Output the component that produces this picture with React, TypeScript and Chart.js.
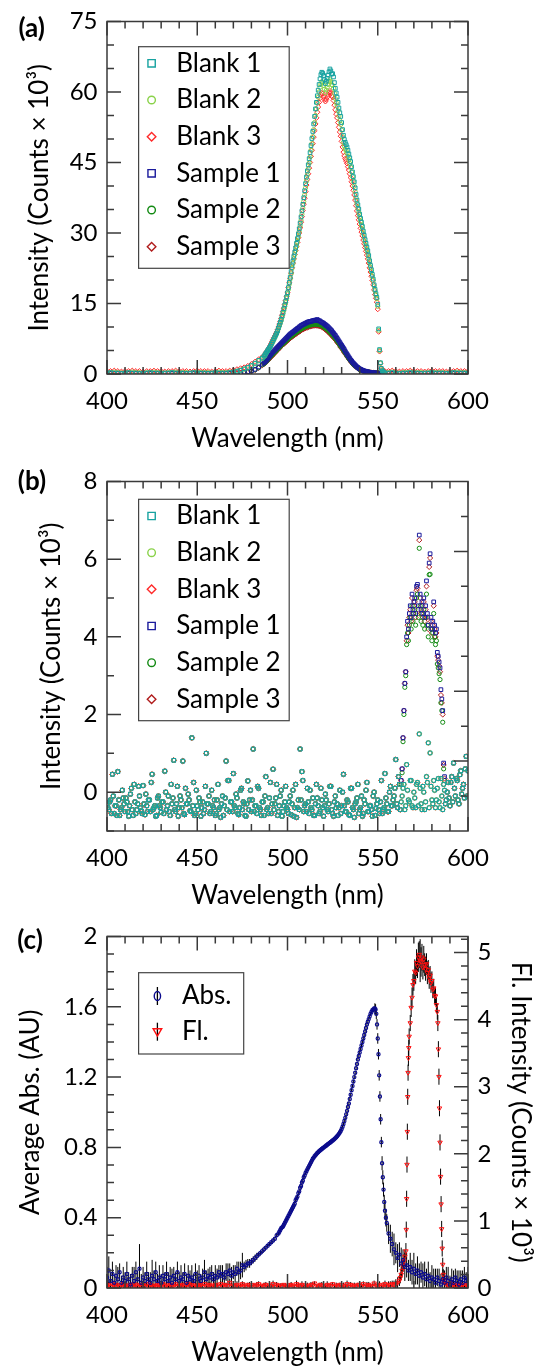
import React, { useEffect, useRef } from 'react';
import { Chart, registerables } from 'chart.js';

Chart.register(...registerables);

// ---------------- axis ticks / labels ----------------
const X_TICKS = [400, 450, 500, 550, 600];
const A_Y_TICKS = [0, 15, 30, 45, 60, 75];
const B_Y_TICKS = [0, 2, 4, 6, 8];
const C_ABS_TICKS = [0, 0.4, 0.8, 1.2, 1.6, 2];
const C_FL_TICKS = [0, 1, 2, 3, 4, 5];
const LEGEND_AB = ['Blank 1', 'Blank 2', 'Blank 3', 'Sample 1', 'Sample 2', 'Sample 3'];
const LEGEND_C = ['Abs.', 'Fl.'];

// ---------------- panel (a) ----------------
const wlA = [
  400, 402, 404, 406, 408, 410, 412, 414, 416, 418, 420, 422, 424, 426, 428, 430, 432, 434, 436, 438, 440, 442,
  444, 446, 448, 450, 452, 454, 456, 458, 460, 462, 464, 466, 468, 470, 472, 474, 476, 478, 480, 482, 484, 486,
  487, 487.5, 488, 488.5, 489, 489.5, 490, 490.5, 491, 491.5,
  492, 492.5, 493, 493.5, 494, 494.5, 495, 495.5, 496, 496.5,
  497, 497.5, 498, 498.5, 499, 499.5, 500, 500.5, 501, 501.5,
  502, 502.5, 503, 503.5, 504, 504.5, 505, 505.5, 506, 506.5,
  507, 507.5, 508, 508.5, 509, 509.5, 510, 510.5, 511, 511.5,
  512, 512.5, 513, 513.5, 514, 514.5, 515, 515.5, 516, 516.5,
  517, 517.5, 518, 518.5, 519, 519.5, 520, 520.5, 521, 521.5,
  522, 522.5, 523, 523.5, 524, 524.5, 525, 525.5, 526, 526.5,
  527, 527.5, 528, 528.5, 529, 529.5, 530, 530.5, 531, 531.5,
  532, 532.5, 533, 533.5, 534, 534.5, 535, 535.5, 536, 536.5,
  537, 537.5, 538, 538.5, 539, 539.5, 540, 540.5, 541, 541.5,
  542, 542.5, 543, 543.5, 544, 544.5, 545, 545.5, 546, 546.5,
  547, 547.5, 548, 548.5, 549, 549.5, 550, 550.5, 551, 551.5,
  552, 552.5, 553, 553.5,
  554, 556, 558, 560, 562, 564, 566, 568, 570, 572, 574, 576, 578, 580, 582, 584, 586, 588, 590, 592, 594, 596, 598, 600,
];

const blank1A = [
  0.2, 0.3, 0.2, 0.2, 0.1, 0.2, 0.3, 0.2, 0.2, 0.1, 0.2, 0.2, 0.3, 0.2, 0.2, 0.1, 0.2, 0.2, 0.3, 0.2, 0.2, 0.2,
  0.1, 0.2, 0.3, 0.2, 0.2, 0.2, 0.1, 0.2, 0.3, 0.2, 0.2, 0.2, 0.3, 0.4, 0.6, 0.8, 1.1, 1.4, 1.8, 2.3, 2.9, 3.4,
  3.8, 4.1, 4.4, 4.7, 5.0, 5.3, 5.6, 5.9, 6.3, 6.7,
  7.1, 7.5, 7.9, 8.3, 8.7, 9.2, 9.8, 10.4, 11.0, 11.6,
  12.3, 13.1, 13.9, 14.7, 15.5, 16.4, 17.3, 18.4, 19.5, 20.6,
  21.8, 23.0, 24.0, 25.0, 25.9, 26.8, 27.8, 28.8, 29.8, 30.9,
  32.1, 33.4, 34.7, 36.1, 37.5, 39.0, 40.5, 41.9, 43.2, 44.5,
  45.8, 47.1, 48.6, 50.1, 51.6, 53.2, 54.8, 56.4, 57.8, 59.2,
  60.4, 61.6, 62.8, 63.7, 64.2, 64.0, 63.5, 62.6, 61.8, 62.3,
  62.9, 63.6, 64.3, 64.9, 64.5, 63.8, 63.9, 63.2, 62.0, 60.8,
  59.8, 58.9, 57.8, 56.6, 55.6, 54.8, 53.5, 52.0, 50.8, 49.9,
  49.3, 48.8, 48.3, 47.6, 46.8, 46.0, 45.2, 44.1, 43.0, 42.0,
  40.9, 39.6, 38.2, 37.0, 36.0, 35.1, 34.0, 33.1, 32.3, 31.4,
  30.4, 29.5, 28.6, 27.8, 27.0, 26.2, 25.2, 24.1, 23.1, 22.2,
  21.2, 20.2, 19.0, 18.0, 17.1, 16.3, 14.8, 9.6, 5.2, 2.4,
  1.2, 0.7, 0.5, 0.3,
  0.2, 0.2, 0.3, 0.2, 0.1, 0.2, 0.2, 0.3, 0.2, 0.2, 0.1, 0.2, 0.2, 0.3, 0.2, 0.2, 0.2, 0.1, 0.2, 0.3, 0.2, 0.2, 0.2, 0.2,
];

const blank2A = [
  0.3, 0.3, 0.4, 0.3, 0.2, 0.3, 0.3, 0.4, 0.3, 0.3, 0.2, 0.3, 0.3, 0.4, 0.3, 0.3, 0.2, 0.3, 0.3, 0.4, 0.3, 0.3,
  0.3, 0.2, 0.3, 0.4, 0.3, 0.3, 0.3, 0.2, 0.3, 0.4, 0.3, 0.3, 0.4, 0.5, 0.6, 0.8, 1.0, 1.3, 1.7, 2.2, 2.8, 3.3,
  3.7, 3.9, 4.3, 4.6, 4.9, 5.2, 5.5, 5.8, 6.2, 6.6,
  7.0, 7.4, 7.8, 8.2, 8.6, 9.1, 9.7, 10.2, 10.8, 11.4,
  12.1, 12.9, 13.6, 14.4, 15.2, 16.1, 17.0, 18.0, 19.1, 20.2,
  21.3, 22.5, 23.5, 24.5, 25.4, 26.3, 27.2, 28.2, 29.2, 30.3,
  31.5, 32.7, 34.0, 35.3, 36.7, 38.1, 39.6, 41.0, 42.3, 43.6,
  44.9, 46.2, 47.6, 49.0, 50.5, 52.0, 53.5, 55.0, 56.4, 57.7,
  58.9, 60.0, 61.0, 61.7, 62.2, 62.0, 61.4, 60.6, 59.8, 60.4,
  61.0, 61.6, 62.2, 62.6, 62.2, 61.6, 61.4, 60.8, 59.7, 58.6,
  57.7, 57.0, 56.0, 54.9, 53.9, 53.1, 51.9, 50.5, 49.3, 48.5,
  47.9, 47.5, 47.0, 46.3, 45.6, 44.8, 44.0, 43.0, 42.0, 41.0,
  40.0, 38.8, 37.5, 36.3, 35.3, 34.4, 33.4, 32.5, 31.7, 30.8,
  29.9, 29.0, 28.1, 27.3, 26.5, 25.7, 24.7, 23.7, 22.7, 21.8,
  20.8, 19.9, 18.7, 17.7, 16.8, 16.0, 14.4, 9.3, 5.0, 2.3,
  1.1, 0.7, 0.5, 0.4,
  0.3, 0.3, 0.4, 0.3, 0.2, 0.3, 0.3, 0.4, 0.3, 0.3, 0.3, 0.2, 0.3, 0.4, 0.3, 0.3, 0.3, 0.2, 0.3, 0.3, 0.4, 0.3, 0.3, 0.3,
];

const blank3A = [
  0.6, 0.6, 0.7, 0.6, 0.5, 0.6, 0.6, 0.7, 0.6, 0.6, 0.5, 0.6, 0.6, 0.7, 0.6, 0.6, 0.5, 0.6, 0.6, 0.7, 0.6, 0.6,
  0.6, 0.5, 0.6, 0.7, 0.6, 0.6, 0.6, 0.5, 0.6, 0.7, 0.6, 0.6, 0.7, 0.8, 1.0, 1.2, 1.4, 1.7, 2.1, 2.6, 3.1, 3.6,
  3.9, 4.2, 4.5, 4.8, 5.1, 5.4, 5.7, 6.1, 6.5, 6.9,
  7.3, 7.7, 8.1, 8.5, 8.9, 9.4, 10.0, 10.6, 11.2, 11.8,
  12.5, 13.3, 14.0, 14.8, 15.6, 16.5, 17.4, 18.4, 19.4, 20.4,
  21.5, 22.6, 23.6, 24.5, 25.4, 26.2, 27.1, 28.0, 29.0, 30.0,
  31.1, 32.3, 33.5, 34.8, 36.1, 37.4, 38.8, 40.2, 41.4, 42.6,
  43.8, 45.0, 46.3, 47.6, 49.0, 50.4, 51.8, 53.2, 54.5, 55.7,
  56.8, 57.8, 58.7, 59.4, 59.8, 59.6, 59.0, 58.4, 58.0, 58.4,
  58.9, 59.4, 59.9, 60.2, 59.8, 59.2, 58.9, 58.2, 57.2, 56.2,
  55.3, 54.5, 53.5, 52.5, 51.5, 50.6, 49.5, 48.3, 47.2, 46.4,
  45.8, 45.3, 44.8, 44.1, 43.4, 42.6, 41.8, 40.9, 40.0, 39.1,
  38.1, 37.0, 35.8, 34.7, 33.7, 32.8, 31.9, 31.0, 30.2, 29.4,
  28.5, 27.7, 26.9, 26.1, 25.3, 24.5, 23.6, 22.6, 21.7, 20.8,
  19.9, 19.0, 17.9, 16.9, 16.1, 15.3, 13.8, 9.0, 4.8, 2.3,
  1.2, 0.9, 0.7, 0.6,
  0.6, 0.6, 0.7, 0.6, 0.5, 0.6, 0.6, 0.7, 0.6, 0.6, 0.6, 0.5, 0.6, 0.7, 0.6, 0.6, 0.6, 0.5, 0.6, 0.6, 0.7, 0.6, 0.6, 0.6,
];

const sample1A = [
  0.1, 0.1, 0.1, 0.1, 0.1, 0.1, 0.1, 0.1, 0.1, 0.1, 0.1, 0.1, 0.1, 0.1, 0.1, 0.1, 0.1, 0.1, 0.1, 0.1, 0.1, 0.1,
  0.1, 0.1, 0.1, 0.1, 0.1, 0.1, 0.1, 0.1, 0.1, 0.1, 0.1, 0.1, 0.12, 0.15, 0.2, 0.28, 0.38, 0.5, 0.68, 1.0, 1.5, 2.1,
  2.4, 2.6, 2.8, 3.0, 3.3, 3.5, 3.8, 4.0, 4.3, 4.5,
  4.7, 4.9, 5.1, 5.3, 5.5, 5.7, 5.9, 6.1, 6.3, 6.5,
  6.7, 6.9, 7.1, 7.3, 7.5, 7.7, 7.9, 8.1, 8.3, 8.5,
  8.6, 8.8, 8.9, 9.1, 9.2, 9.4, 9.5, 9.7, 9.8, 10.0,
  10.1, 10.3, 10.4, 10.5, 10.6, 10.7, 10.8, 10.9, 11.0, 11.1,
  11.1, 11.2, 11.2, 11.3, 11.3, 11.4, 11.4, 11.5, 11.4, 11.6,
  11.4, 11.3, 11.3, 11.1, 11.0, 10.9, 10.8, 10.6, 10.5, 10.3,
  10.2, 10.0, 9.8, 9.6, 9.4, 9.2, 8.9, 8.7, 8.4, 8.2,
  7.9, 7.6, 7.3, 7.0, 6.7, 6.4, 6.1, 5.8, 5.5, 5.2,
  4.8, 4.5, 4.2, 3.9, 3.6, 3.3, 3.0, 2.8, 2.5, 2.3,
  2.1, 1.9, 1.7, 1.5, 1.4, 1.2, 1.1, 1.0, 0.9, 0.8,
  0.7, 0.65, 0.6, 0.55, 0.5, 0.45, 0.4, 0.37, 0.34, 0.31,
  0.28, 0.26, 0.24, 0.22, 0.2, 0.19, 0.18, 0.17, 0.16, 0.15,
  0.14, 0.13, 0.12, 0.12,
  0.1, 0.1, 0.1, 0.1, 0.1, 0.1, 0.1, 0.1, 0.1, 0.1, 0.1, 0.1, 0.1, 0.1, 0.1, 0.1, 0.1, 0.1, 0.1, 0.1, 0.1, 0.1, 0.1, 0.1,
];

const sample2A = [
  0.1, 0.1, 0.1, 0.1, 0.1, 0.1, 0.1, 0.1, 0.1, 0.1, 0.1, 0.1, 0.1, 0.1, 0.1, 0.1, 0.1, 0.1, 0.1, 0.1, 0.1, 0.1,
  0.1, 0.1, 0.1, 0.1, 0.1, 0.1, 0.1, 0.1, 0.1, 0.1, 0.1, 0.1, 0.12, 0.14, 0.18, 0.25, 0.34, 0.45, 0.62, 0.9, 1.35, 1.95,
  2.2, 2.4, 2.6, 2.8, 3.0, 3.2, 3.5, 3.7, 3.9, 4.1,
  4.3, 4.5, 4.7, 4.9, 5.1, 5.3, 5.5, 5.7, 5.9, 6.1,
  6.3, 6.5, 6.6, 6.8, 7.0, 7.2, 7.4, 7.5, 7.7, 7.9,
  8.0, 8.2, 8.3, 8.5, 8.6, 8.8, 8.9, 9.0, 9.2, 9.3,
  9.4, 9.6, 9.7, 9.8, 9.9, 10.0, 10.1, 10.2, 10.2, 10.3,
  10.4, 10.4, 10.5, 10.5, 10.6, 10.6, 10.6, 10.7, 10.6, 10.6,
  10.6, 10.5, 10.5, 10.4, 10.3, 10.2, 10.1, 9.9, 9.8, 9.6,
  9.5, 9.3, 9.1, 8.9, 8.7, 8.5, 8.3, 8.1, 7.8, 7.6,
  7.3, 7.1, 6.8, 6.5, 6.2, 5.9, 5.7, 5.4, 5.1, 4.8,
  4.5, 4.2, 3.9, 3.6, 3.3, 3.1, 2.8, 2.6, 2.3, 2.1,
  1.9, 1.8, 1.6, 1.4, 1.3, 1.1, 1.0, 0.9, 0.8, 0.75,
  0.65, 0.6, 0.55, 0.5, 0.45, 0.42, 0.38, 0.35, 0.32, 0.29,
  0.26, 0.24, 0.22, 0.2, 0.19, 0.18, 0.17, 0.16, 0.15, 0.14,
  0.13, 0.12, 0.12, 0.11,
  0.1, 0.1, 0.1, 0.1, 0.1, 0.1, 0.1, 0.1, 0.1, 0.1, 0.1, 0.1, 0.1, 0.1, 0.1, 0.1, 0.1, 0.1, 0.1, 0.1, 0.1, 0.1, 0.1, 0.1,
];

const sample3A = [
  0.1, 0.1, 0.1, 0.1, 0.1, 0.1, 0.1, 0.1, 0.1, 0.1, 0.1, 0.1, 0.1, 0.1, 0.1, 0.1, 0.1, 0.1, 0.1, 0.1, 0.1, 0.1,
  0.1, 0.1, 0.1, 0.1, 0.1, 0.1, 0.1, 0.1, 0.1, 0.1, 0.1, 0.1, 0.11, 0.13, 0.17, 0.23, 0.32, 0.43, 0.58, 0.85, 1.3, 1.85,
  2.1, 2.3, 2.5, 2.7, 2.9, 3.1, 3.3, 3.5, 3.7, 3.9,
  4.1, 4.3, 4.5, 4.7, 4.9, 5.1, 5.3, 5.5, 5.7, 5.9,
  6.1, 6.3, 6.4, 6.6, 6.8, 7.0, 7.1, 7.3, 7.5, 7.6,
  7.8, 7.9, 8.1, 8.2, 8.4, 8.5, 8.6, 8.8, 8.9, 9.0,
  9.1, 9.3, 9.4, 9.5, 9.6, 9.7, 9.8, 9.9, 9.9, 10.0,
  10.1, 10.1, 10.2, 10.2, 10.3, 10.3, 10.3, 10.4, 10.3, 10.3,
  10.3, 10.2, 10.2, 10.1, 10.0, 9.9, 9.8, 9.6, 9.5, 9.3,
  9.2, 9.0, 8.8, 8.6, 8.4, 8.2, 8.0, 7.8, 7.6, 7.3,
  7.1, 6.8, 6.6, 6.3, 6.0, 5.7, 5.5, 5.2, 4.9, 4.6,
  4.3, 4.1, 3.8, 3.5, 3.2, 3.0, 2.7, 2.5, 2.2, 2.0,
  1.8, 1.7, 1.5, 1.4, 1.2, 1.1, 1.0, 0.9, 0.8, 0.7,
  0.6, 0.55, 0.5, 0.46, 0.42, 0.39, 0.36, 0.33, 0.3, 0.27,
  0.25, 0.23, 0.21, 0.2, 0.18, 0.17, 0.16, 0.15, 0.14, 0.13,
  0.12, 0.12, 0.11, 0.11,
  0.1, 0.1, 0.1, 0.1, 0.1, 0.1, 0.1, 0.1, 0.1, 0.1, 0.1, 0.1, 0.1, 0.1, 0.1, 0.1, 0.1, 0.1, 0.1, 0.1, 0.1, 0.1, 0.1, 0.1,
];

// ---------------- panel (b) ----------------
const wlB = [
  400, 401, 402, 403, 404, 405, 406, 407, 408, 409, 410, 411, 412, 413, 414, 415, 416, 417, 418, 419,
  420, 421, 422, 423, 424, 425, 426, 427, 428, 429, 430, 431, 432, 433, 434, 435, 436, 437, 438, 439,
  440, 441, 442, 443, 444, 445, 446, 447, 448, 449, 450, 451, 452, 453, 454, 455, 456, 457, 458, 459,
  460, 461, 462, 463, 464, 465, 466, 467, 468, 469, 470, 471, 472, 473, 474, 475, 476, 477, 478, 479,
  480, 481, 482, 483, 484, 485, 486, 487, 488, 489, 490, 491, 492, 493, 494, 495, 496, 497, 498, 499,
  500, 501, 502, 503, 504, 505, 506, 507, 508, 509, 510, 511, 512, 513, 514, 515, 516, 517, 518, 519,
  520, 521, 522, 523, 524, 525, 526, 527, 528, 529, 530, 531, 532, 533, 534, 535, 536, 537, 538, 539,
  540, 541, 542, 543, 544, 545, 546, 547, 548, 549, 550, 551, 552, 553, 554, 555, 556, 557, 558, 559,
  560, 561, 562, 563, 564, 565, 566, 567, 568, 569, 570, 571, 572, 573, 574, 575, 576, 577, 578, 579,
  580, 581, 582, 583, 584, 585, 586, 587, 588, 589, 590, 591, 592, 593, 594, 595, 596, 597, 598, 599,
  600,
];

// baseline readings shared by the six traces
const baseB = [
  -0.30, -0.45, -0.20, 0.46, -0.55, -0.35, 0.53, -0.60, -0.40, -0.15,
  -0.50, -0.25, -0.62, -0.05, -0.45, 0.20, -0.55, -0.30, -0.10, -0.48,
  0.17, -0.58, -0.35, -0.20, -0.50, 0.46, -0.40, -0.62, -0.15, -0.35,
  -0.52, -0.25, 0.54, -0.45, -0.10, -0.60, -0.30, 0.82, -0.50, 0.15,
  -0.40, -0.20, 0.80, -0.58, -0.30, -0.05, -0.48, 1.40, 0.25, -0.55,
  -0.35, -0.15, -0.62, -0.25, -0.45, 1.00, -0.30, -0.55, 0.05, -0.40,
  -0.60, -0.20, -0.45, -0.65, -0.10, -0.35, 0.80, 0.30, -0.50, -0.25,
  0.48, -0.40, -0.15, -0.58, 0.05, -0.45, -0.30, -0.62, 0.29, -0.20,
  -0.50, 1.11, -0.35, -0.55, 0.10, -0.45, -0.25, -0.60, 0.40, -0.40,
  -0.15, -0.55, 0.59, -0.30, 0.20, -0.50, -0.10, -0.62, -0.35, 0.15,
  -0.45, -0.25, -0.58, 0.05, -0.40, -0.65, -0.20, 1.11, 0.53, -0.50,
  -0.30, 0.10, -0.55, -0.40, -0.15, -0.60, 0.20, -0.35, -0.50, -0.20,
  -0.62, -0.05, -0.45, -0.30, 0.15, -0.55, -0.25, -0.40, -0.60, 0.05,
  -0.35, 0.46, -0.50, -0.20, -0.58, 0.10, -0.40, -0.65, -0.25, 0.20,
  -0.45, -0.10, -0.55, -0.30, 0.25, -0.50, -0.35, -0.62, 0.00, -0.42,
  -0.20, -0.55, 0.30, -0.45, 0.48, -0.30, -0.50, 0.15, -0.35, -0.10,
  0.84, -0.40, 0.20, -0.25, 0.10, -0.45, 0.71, -0.20, 0.30, -0.35,
  0.00, -0.40, 0.25, 1.50, -0.30, 0.15, -0.45, 0.40, 1.27, 1.01,
  -0.20, 0.30, -0.40, 0.10, -0.25, 0.35, -0.45, 0.05, -0.20, 0.25,
  -0.35, 0.40, 0.75, -0.10, 0.30, -0.30, 0.55, 0.10, -0.15, 0.92,
  0.55,
];

// second set of baseline readings, between the first ones
const wlB2 = [
  400.5, 401.5, 402.5, 403.5, 404.5, 405.5, 406.5, 407.5, 408.5, 409.5, 410.5, 411.5, 412.5, 413.5, 414.5, 415.5, 416.5, 417.5, 418.5, 419.5,
  420.5, 421.5, 422.5, 423.5, 424.5, 425.5, 426.5, 427.5, 428.5, 429.5, 430.5, 431.5, 432.5, 433.5, 434.5, 435.5, 436.5, 437.5, 438.5, 439.5,
  440.5, 441.5, 442.5, 443.5, 444.5, 445.5, 446.5, 447.5, 448.5, 449.5, 450.5, 451.5, 452.5, 453.5, 454.5, 455.5, 456.5, 457.5, 458.5, 459.5,
  460.5, 461.5, 462.5, 463.5, 464.5, 465.5, 466.5, 467.5, 468.5, 469.5, 470.5, 471.5, 472.5, 473.5, 474.5, 475.5, 476.5, 477.5, 478.5, 479.5,
  480.5, 481.5, 482.5, 483.5, 484.5, 485.5, 486.5, 487.5, 488.5, 489.5, 490.5, 491.5, 492.5, 493.5, 494.5, 495.5, 496.5, 497.5, 498.5, 499.5,
  500.5, 501.5, 502.5, 503.5, 504.5, 505.5, 506.5, 507.5, 508.5, 509.5, 510.5, 511.5, 512.5, 513.5, 514.5, 515.5, 516.5, 517.5, 518.5, 519.5,
  520.5, 521.5, 522.5, 523.5, 524.5, 525.5, 526.5, 527.5, 528.5, 529.5, 530.5, 531.5, 532.5, 533.5, 534.5, 535.5, 536.5, 537.5, 538.5, 539.5,
  540.5, 541.5, 542.5, 543.5, 544.5, 545.5, 546.5, 547.5, 548.5, 549.5, 550.5, 551.5, 552.5, 553.5, 554.5, 555.5, 556.5, 557.5, 558.5, 559.5,
  560.5, 561.5, 562.5, 563.5, 564.5, 565.5, 566.5, 567.5, 568.5, 569.5, 570.5, 571.5, 572.5, 573.5, 574.5, 575.5, 576.5, 577.5, 578.5, 579.5,
  580.5, 581.5, 582.5, 583.5, 584.5, 585.5, 586.5, 587.5, 588.5, 589.5, 590.5, 591.5, 592.5, 593.5, 594.5, 595.5, 596.5, 597.5, 598.5, 599.5,
];
const baseB2 = [
  -0.40, -0.25, -0.55, -0.10, -0.35, -0.60, -0.20, -0.45, 0.05, -0.30,
  -0.15, -0.50, -0.35, 0.10, -0.60, -0.25, -0.45, 0.15, -0.40, -0.55,
  -0.30, -0.05, -0.50, -0.20, 0.25, -0.45, -0.35, -0.60, -0.10, -0.40,
  -0.25, -0.55, 0.00, -0.35, -0.50, 0.20, -0.15, -0.45, -0.30, -0.62,
  -0.10, -0.40, -0.55, 0.10, -0.30, -0.20, -0.50, -0.35, -0.60, 0.05,
  -0.45, -0.25, -0.40, -0.55, 0.15, -0.30, -0.10, -0.50, -0.35, -0.20,
  -0.55, 0.20, -0.40, -0.30, -0.60, -0.15, -0.45, 0.30, -0.25, -0.50,
  -0.35, -0.05, -0.55, -0.40, 0.10, -0.25, -0.60, -0.30, -0.45, 0.05,
  -0.20, -0.50, -0.35, 0.15, -0.40, -0.60, -0.25, -0.10, -0.45, -0.55,
  0.25, -0.30, -0.45, -0.15, -0.60, -0.35, 0.05, -0.50, -0.25, -0.40,
  -0.55, -0.10, -0.30, -0.62, 0.20, -0.40, -0.45, -0.20, 0.30, -0.35,
  -0.50, -0.25, 0.05, -0.45, -0.60, -0.30, -0.15, -0.55, 0.10, -0.40,
  -0.35, -0.20, -0.50, 0.15, -0.45, -0.62, -0.10, -0.30, -0.40, -0.55,
  0.00, -0.35, -0.50, -0.25, -0.60, 0.10, -0.45, -0.30, -0.15, -0.55,
  -0.40, -0.62, -0.20, 0.05, -0.50, -0.35, -0.45, -0.10, -0.60, -0.30,
  -0.45, -0.25, -0.55, -0.40, -0.15, -0.50, 0.00, -0.35, -0.20, 0.10,
  -0.30, 0.40, -0.45, -0.10, 0.20, -0.35, 0.05, -0.25, 0.30, -0.40,
  -0.15, 0.20, -0.35, 0.10, -0.45, 0.00, -0.25, 0.25, -0.40, 0.15,
  -0.30, 0.05, -0.20, 0.35, -0.40, -0.10, 0.20, -0.30, 0.00, -0.15,
  0.25, -0.25, 0.10, 0.35, -0.20, 0.45, -0.05, 0.20, 0.60, -0.10,
];

const peakWlB = [
  563, 563.5, 564, 564.5, 565, 565.5, 566, 566.5, 567, 567.5,
  568, 568.5, 569, 569.5, 570, 570.5, 571, 571.5, 572, 572.5,
  573, 573.5, 574, 574.5, 575, 575.5, 576, 576.5, 577, 577.5,
  578, 578.5, 579, 579.5, 580, 580.5, 581, 581.5, 582, 582.5,
  583, 583.5, 584, 584.5, 585, 585.5, 586, 586.5, 587,
];
const sample1PeakB = [
  0.3, 0.6, 1.4, 2.1, 2.8, 3.1, 4.0, 4.4, 4.2, 4.6,
  4.8, 4.5, 5.1, 4.7, 4.9, 5.0, 4.6, 5.3, 5.35, 4.8,
  6.62, 5.1, 4.7, 4.9, 4.6, 5.0, 4.5, 4.8, 5.44, 4.6,
  4.3, 5.9, 6.14, 4.5, 4.2, 4.4, 4.9, 4.3, 4.1, 4.2,
  3.6, 3.5, 3.35, 3.2, 2.64, 2.4, 2.1, 0.75, 0.4,
];
const sample2PeakB = [
  0.2, 0.5, 1.3, 2.0, 2.7, 3.0, 3.8, 4.1, 3.9, 4.3,
  4.5, 4.2, 4.8, 4.4, 4.6, 4.7, 4.3, 5.0, 5.1, 4.5,
  6.28, 4.8, 4.4, 4.6, 4.3, 4.7, 4.2, 4.5, 5.1, 4.3,
  4.0, 5.6, 5.61, 4.2, 3.9, 4.1, 4.6, 4.0, 3.8, 3.9,
  3.3, 3.2, 3.05, 2.9, 2.3, 2.1, 1.8, 0.6, 0.3,
];
const sample3PeakB = [
  0.3, 0.6, 1.4, 2.1, 2.8, 3.1, 3.9, 4.3, 4.1, 4.5,
  4.7, 4.4, 5.0, 4.6, 4.8, 4.9, 4.5, 5.2, 5.25, 4.7,
  6.49, 5.0, 4.6, 4.8, 4.5, 4.9, 4.4, 4.7, 5.3, 4.5,
  4.2, 5.8, 6.03, 4.4, 4.1, 4.3, 4.8, 4.2, 4.0, 4.1,
  3.5, 3.4, 3.25, 3.1, 2.5, 2.3, 2.0, 0.7, 0.35,
];

// ---------------- panel (c) ----------------
const wlAbs = [
  400, 401, 402, 403, 404, 405, 406, 407, 408, 409, 410, 411, 412, 413, 414, 415, 416, 417, 418, 419,
  420, 421, 422, 423, 424, 425, 426, 427, 428, 429, 430, 431, 432, 433, 434, 435, 436, 437, 438, 439,
  440, 441, 442, 443, 444, 445, 446, 447, 448, 449, 450, 451, 452, 453, 454, 455, 456, 457, 458, 459,
  460, 461, 462, 463, 464, 465, 466, 467, 468, 469, 470, 471, 472, 473, 474, 475, 476, 477, 478, 479,
  480, 481, 482, 483, 484, 485, 486, 487, 488, 489, 490, 491, 492, 493, 494, 495,
  495.5, 496, 496.5, 497, 497.5, 498, 498.5, 499, 499.5, 500,
  500.5, 501, 501.5, 502, 502.5, 503, 503.5, 504, 504.5, 505,
  505.5, 506, 506.5, 507, 507.5, 508, 508.5, 509, 509.5, 510,
  510.5, 511, 511.5, 512, 512.5, 513, 513.5, 514, 514.5, 515,
  515.5, 516, 516.5, 517, 517.5, 518, 518.5, 519, 519.5, 520,
  520.5, 521, 521.5, 522, 522.5, 523, 523.5, 524, 524.5, 525,
  525.5, 526, 526.5, 527, 527.5, 528, 528.5, 529, 529.5, 530,
  530.5, 531, 531.5, 532, 532.5, 533, 533.5, 534, 534.5, 535,
  535.5, 536, 536.5, 537, 537.5, 538, 538.5, 539, 539.5, 540,
  540.5, 541, 541.5, 542, 542.5, 543, 543.5, 544, 544.5, 545,
  545.5, 546, 546.5, 547, 547.5, 548,
  548.4, 548.8, 549.2, 549.6, 550, 550.4, 550.8, 551.2, 551.6, 552, 552.4, 552.8, 553.2, 553.6, 554, 554.5, 555,
  556, 557, 558, 559, 560, 561, 562, 563, 564, 565, 566, 567, 568, 569, 570, 571, 572, 573, 574, 575,
  576, 577, 578, 579, 580, 581, 582, 583, 584, 585, 586, 587, 588, 589, 590, 591, 592, 593, 594, 595,
  596, 597, 598, 599, 600,
];
const absVal = [
  0.06, 0.10, 0.04, 0.08, 0.03, 0.07, 0.05, 0.09, 0.03, 0.06,
  0.04, 0.08, 0.05, 0.02, 0.07, 0.04, 0.09, 0.05, 0.11, 0.03,
  0.06, 0.04, 0.08, 0.05, 0.03, 0.07, 0.05, 0.09, 0.04, 0.06,
  0.03, 0.07, 0.05, 0.08, 0.04, 0.06, 0.03, 0.07, 0.05, 0.09,
  0.04, 0.06, 0.05, 0.08, 0.03, 0.07, 0.05, 0.06, 0.04, 0.08,
  0.05, 0.07, 0.04, 0.06, 0.09, 0.05, 0.07, 0.06, 0.08, 0.05,
  0.07, 0.06, 0.09, 0.07, 0.08, 0.06, 0.09, 0.08, 0.10, 0.07,
  0.09, 0.08, 0.11, 0.09, 0.10, 0.13, 0.12, 0.13, 0.14, 0.14,
  0.15, 0.16, 0.17, 0.18, 0.19, 0.20, 0.21, 0.22, 0.23, 0.24,
  0.25, 0.26, 0.27, 0.28, 0.30, 0.31,
  0.32, 0.33, 0.34, 0.345, 0.35, 0.36, 0.37, 0.38, 0.39, 0.40,
  0.41, 0.42, 0.43, 0.44, 0.45, 0.46, 0.47, 0.48, 0.50, 0.51,
  0.52, 0.54, 0.55, 0.57, 0.58, 0.60, 0.61, 0.63, 0.64, 0.655,
  0.665, 0.675, 0.685, 0.695, 0.705, 0.715, 0.725, 0.735, 0.742, 0.75,
  0.756, 0.762, 0.768, 0.773, 0.778, 0.783, 0.787, 0.791, 0.795, 0.799,
  0.803, 0.807, 0.811, 0.815, 0.819, 0.823, 0.827, 0.831, 0.835, 0.839,
  0.843, 0.848, 0.853, 0.858, 0.864, 0.870, 0.877, 0.885, 0.894, 0.905,
  0.918, 0.933, 0.950, 0.968, 0.988, 1.008, 1.03, 1.05, 1.075, 1.10,
  1.125, 1.15, 1.175, 1.20, 1.225, 1.25, 1.275, 1.30, 1.32, 1.34,
  1.36, 1.38, 1.40, 1.42, 1.44, 1.46, 1.48, 1.50, 1.515, 1.53,
  1.545, 1.56, 1.57, 1.58, 1.585, 1.59,
  1.59, 1.585, 1.56, 1.50, 1.42, 1.33, 1.21, 1.09, 0.96, 0.83, 0.71, 0.63, 0.56, 0.49, 0.44, 0.40, 0.37,
  0.31, 0.28, 0.25, 0.22, 0.20, 0.17, 0.19, 0.14, 0.16, 0.12, 0.13, 0.10, 0.12, 0.09, 0.11, 0.08, 0.10, 0.07, 0.09, 0.06,
  0.08, 0.05, 0.07, 0.04, 0.06, 0.05, 0.03, 0.06, 0.04, 0.02, 0.05, 0.03, 0.06, 0.04, 0.02, 0.05, 0.03, 0.06, 0.04, 0.02,
  0.05, 0.03, 0.06, 0.04, 0.05,
];
const absErr = [
  0.06, 0.08, 0.05, 0.07, 0.04, 0.06, 0.07, 0.05, 0.04, 0.06,
  0.05, 0.07, 0.04, 0.06, 0.05, 0.08, 0.06, 0.05, 0.14, 0.05,
  0.06, 0.05, 0.07, 0.04, 0.06, 0.09, 0.05, 0.06, 0.04, 0.07,
  0.05, 0.06, 0.04, 0.07, 0.05, 0.06, 0.08, 0.05, 0.04, 0.06,
  0.05, 0.07, 0.04, 0.06, 0.05, 0.06, 0.05, 0.07, 0.04, 0.06,
  0.05, 0.06, 0.04, 0.05, 0.07, 0.05, 0.04, 0.06, 0.05, 0.04,
  0.06, 0.05, 0.04, 0.06, 0.05, 0.04, 0.05, 0.06, 0.04, 0.05,
  0.04, 0.05, 0.04, 0.06, 0.05, 0.07,
  0.03, 0.03, 0.025, 0.025, 0.02, 0.02, 0.02, 0.02, 0.015, 0.015, 0.015, 0.015, 0.01, 0.01, 0.01, 0.01, 0.01, 0.01, 0.01, 0.01,
  0.01, 0.01, 0.01, 0.01, 0.01, 0.01, 0.01, 0.01, 0.01, 0.01,
  0.01, 0.01, 0.01, 0.01, 0.01, 0.01, 0.01, 0.01, 0.01, 0.01,
  0.01, 0.01, 0.01, 0.01, 0.01, 0.01, 0.01, 0.01, 0.01, 0.01,
  0.01, 0.01, 0.01, 0.01, 0.01, 0.01, 0.01, 0.01, 0.01, 0.01,
  0.01, 0.01, 0.01, 0.01, 0.01, 0.01, 0.01, 0.01, 0.01, 0.01,
  0.01, 0.01, 0.01, 0.01, 0.01, 0.01, 0.01, 0.01, 0.01, 0.01,
  0.01, 0.01, 0.01, 0.01, 0.01, 0.01, 0.01, 0.01, 0.01, 0.01,
  0.01, 0.01, 0.01, 0.01, 0.01, 0.01, 0.01, 0.01, 0.01, 0.01,
  0.01, 0.01, 0.01, 0.01, 0.01, 0.01, 0.01, 0.01, 0.01, 0.01,
  0.01, 0.01, 0.01, 0.01, 0.01, 0.01, 0.01, 0.01, 0.01, 0.01,
  0.01, 0.01, 0.01, 0.01, 0.01, 0.01,
  0.03, 0.03, 0.03, 0.03, 0.03, 0.03, 0.03, 0.03, 0.03, 0.03, 0.04, 0.04, 0.04, 0.04, 0.05, 0.05, 0.05,
  0.06, 0.08, 0.07, 0.09, 0.06, 0.08, 0.07, 0.09, 0.06, 0.08, 0.07, 0.06, 0.08, 0.07, 0.09, 0.06, 0.08, 0.07, 0.06, 0.08,
  0.07, 0.06, 0.08, 0.05, 0.07, 0.06, 0.08, 0.05, 0.07, 0.06, 0.05, 0.07, 0.06, 0.08, 0.05, 0.06, 0.07, 0.05, 0.06, 0.08,
  0.05, 0.07, 0.06, 0.05, 0.07,
];

const wlFl = [
  400, 401, 402, 403, 404, 405, 406, 407, 408, 409, 410, 411, 412, 413, 414, 415, 416, 417, 418, 419,
  420, 421, 422, 423, 424, 425, 426, 427, 428, 429, 430, 431, 432, 433, 434, 435, 436, 437, 438, 439,
  440, 441, 442, 443, 444, 445, 446, 447, 448, 449, 450, 451, 452, 453, 454, 455, 456, 457, 458, 459,
  460, 461, 462, 463, 464, 465, 466, 467, 468, 469, 470, 471, 472, 473, 474, 475, 476, 477, 478, 479,
  480, 481, 482, 483, 484, 485, 486, 487, 488, 489, 490, 491, 492, 493, 494, 495, 496, 497, 498, 499,
  500, 501, 502, 503, 504, 505, 506, 507, 508, 509, 510, 511, 512, 513, 514, 515, 516, 517, 518, 519,
  520, 521, 522, 523, 524, 525, 526, 527, 528, 529, 530, 531, 532, 533, 534, 535, 536, 537, 538, 539,
  540, 541, 542, 543, 544, 545, 546, 547, 548, 549, 550, 551, 552, 553, 554, 555, 556, 557, 558, 559,
  560, 561, 562,
  562.5, 563, 563.5, 564, 564.5, 565,
  565.6, 565.8, 566, 566.2, 566.4, 566.6, 566.8, 567, 567.2, 567.4,
  568, 568.5, 569, 569.5, 570, 570.5, 571, 571.5, 572, 572.5,
  573, 573.5, 574, 574.5, 575, 575.5, 576, 576.5, 577, 577.5,
  578, 578.5, 579, 579.5, 580, 580.5, 581, 581.5, 582, 582.5, 583,
  583.3, 583.6, 583.9, 584.2, 584.5, 584.8, 585.1, 585.4, 585.7, 586, 586.3, 586.6, 587,
  588, 589, 590, 591, 592, 593, 594, 595, 596, 597, 598, 599, 600,
];
const flVal = [
  0.03, 0.05, 0.02, 0.06, 0.04, 0.03, 0.05, 0.02, 0.04, 0.06,
  0.03, 0.04, 0.02, 0.05, 0.03, 0.06, 0.04, 0.02, 0.05, 0.03,
  0.04, 0.02, 0.06, 0.03, 0.05, 0.04, 0.02, 0.03, 0.05, 0.04,
  0.02, 0.06, 0.03, 0.04, 0.02, 0.05, 0.03, 0.04, 0.06, 0.02,
  0.04, 0.03, 0.05, 0.02, 0.04, 0.06, 0.03, 0.05, 0.02, 0.04,
  0.03, 0.05, 0.04, 0.02, 0.06, 0.03, 0.04, 0.05, 0.02, 0.03,
  0.05, 0.04, 0.02, 0.06, 0.03, 0.05, 0.04, 0.03, 0.08, 0.02,
  0.04, 0.03, 0.05, 0.02, 0.04, 0.06, 0.03, 0.02, 0.05, 0.04,
  0.02, 0.05, 0.03, 0.04, 0.06, 0.02, 0.04, 0.03, 0.05, 0.02,
  0.04, 0.03, 0.06, 0.02, 0.05, 0.03, 0.04, 0.02, 0.05, 0.03,
  0.02, 0.04, 0.05, 0.03, 0.02, 0.06, 0.04, 0.03, 0.05, 0.02,
  0.04, 0.03, 0.02, 0.05, 0.04, 0.07, 0.03, 0.02, 0.05, 0.04,
  0.03, 0.02, 0.05, 0.04, 0.03, 0.06, 0.02, 0.04, 0.03, 0.05,
  0.02, 0.04, 0.03, 0.06, 0.02, 0.05, 0.04, 0.03, 0.02, 0.05,
  0.04, 0.03, 0.06, 0.02, 0.04, 0.05, 0.03, 0.02, 0.07, 0.04,
  0.03, 0.05, 0.02, 0.04, 0.06, 0.03, 0.05, 0.04, 0.06, 0.05,
  0.06, 0.08, 0.11,
  0.15, 0.20, 0.26, 0.33, 0.40, 0.47,
  0.55, 0.87, 1.33, 1.84, 2.33, 2.85, 3.21, 3.43, 3.58, 3.75,
  3.95, 4.18, 4.33, 4.52, 4.58, 4.72, 4.70, 4.85, 4.80, 4.93,
  4.97, 4.88, 4.86, 4.93, 4.78, 4.90, 4.82, 4.76, 4.83, 4.70,
  4.74, 4.62, 4.66, 4.55, 4.58, 4.45, 4.47, 4.36, 4.35, 4.22, 4.12,
  3.95, 3.56, 3.15, 2.68, 2.17, 1.66, 1.25, 0.88, 0.59, 0.35, 0.20, 0.12, 0.08,
  0.06, 0.04, 0.07, 0.03, 0.05, 0.04, 0.06, 0.03, 0.05, 0.04, 0.02, 0.05, 0.03,
];
const flErr = [
  0.03, 0.04, 0.02, 0.05, 0.03, 0.04, 0.02, 0.03, 0.05, 0.04,
  0.04, 0.03, 0.05, 0.02, 0.04, 0.03, 0.05, 0.04, 0.02, 0.03,
  0.02, 0.05, 0.03, 0.04, 0.03, 0.02, 0.04, 0.05, 0.03, 0.04,
  0.05, 0.03, 0.04, 0.02, 0.05, 0.04, 0.03, 0.02, 0.04, 0.05,
  0.03, 0.02, 0.04, 0.05, 0.03, 0.04, 0.02, 0.05, 0.04, 0.03,
  0.04, 0.05, 0.03, 0.02, 0.04, 0.03, 0.05, 0.04, 0.03, 0.02,
  0.05, 0.03, 0.02, 0.04, 0.05, 0.02, 0.04, 0.03, 0.06, 0.04,
  0.03, 0.04, 0.05, 0.03, 0.02, 0.04, 0.05, 0.02, 0.03, 0.05,
  0.04, 0.02, 0.03, 0.05, 0.04, 0.03, 0.02, 0.05, 0.04, 0.03,
  0.02, 0.04, 0.05, 0.03, 0.04, 0.02, 0.03, 0.05, 0.02, 0.04,
  0.05, 0.03, 0.04, 0.02, 0.03, 0.05, 0.04, 0.02, 0.05, 0.03,
  0.03, 0.05, 0.02, 0.04, 0.05, 0.03, 0.02, 0.04, 0.03, 0.05,
  0.04, 0.03, 0.05, 0.02, 0.04, 0.03, 0.05, 0.04, 0.02, 0.03,
  0.02, 0.04, 0.03, 0.05, 0.03, 0.04, 0.02, 0.05, 0.04, 0.03,
  0.05, 0.02, 0.04, 0.03, 0.05, 0.04, 0.03, 0.05, 0.04, 0.03,
  0.04, 0.05, 0.03, 0.04, 0.05, 0.04, 0.05, 0.06, 0.05, 0.06,
  0.07, 0.08, 0.08,
  0.08, 0.08, 0.09, 0.09, 0.10, 0.10,
  0.12, 0.12, 0.12, 0.12, 0.12, 0.12, 0.12, 0.12, 0.12, 0.12,
  0.12, 0.14, 0.15, 0.16, 0.15, 0.18, 0.17, 0.20, 0.18, 0.22,
  0.20, 0.32, 0.22, 0.20, 0.18, 0.20, 0.17, 0.18, 0.16, 0.17,
  0.15, 0.16, 0.14, 0.15, 0.14, 0.13, 0.14, 0.12, 0.13, 0.12, 0.12,
  0.12, 0.12, 0.12, 0.12, 0.12, 0.12, 0.12, 0.12, 0.12, 0.10, 0.08, 0.06, 0.05,
  0.04, 0.03, 0.05, 0.03, 0.04, 0.03, 0.05, 0.04, 0.03, 0.04, 0.03, 0.05, 0.04,
];

// ---------------- styling ----------------
const FONT = 'Lato, "Open Sans", "DejaVu Sans", sans-serif';
const TXT = '#000000';
const FRAME = '#3a3a3a';
const COL = {
  b1: '#17a2a0',
  b2: '#8ad24a',
  b3: '#ff2a2a',
  s1: '#1a1a9c',
  s2: '#138a13',
  s3: '#b01c1c',
  abs: '#0b0b8e',
  fl: '#ff1010',
};
const TICK_FONT = { family: FONT, size: 24, lineHeight: 1 };
const TITLE_FONT = { family: FONT, size: 26, lineHeight: 1.2 };
const LEGEND_FONT_PX = 26;
const MAJOR_LEN = 14;
const MINOR_LEN = 7;

// ---------------- helpers ----------------
function pts(xs: number[], ys: number[]) {
  return xs.map((x, i) => ({ x, y: ys[i] }));
}

function stepValues(min: number, max: number, step: number) {
  const out: number[] = [];
  const n = Math.round((max - min) / step);
  for (let k = 0; k <= n; k++) out.push(min + k * step);
  return out;
}

function isMultiple(v: number, m: number) {
  const r = v / m;
  return Math.abs(r - Math.round(r)) < 1e-6;
}

function fmt(v: number) {
  return String(Math.round(v * 100) / 100);
}

function scatterSet(label: string, data: any[], style: string, color: string, radius: number, extra: any = {}) {
  return {
    label,
    data,
    pointStyle: style,
    pointRadius: radius,
    pointHoverRadius: radius,
    pointBorderWidth: 1,
    pointBorderColor: color,
    pointBackgroundColor: 'rgba(0,0,0,0)',
    borderColor: color,
    backgroundColor: 'rgba(0,0,0,0)',
    showLine: false,
    ...extra,
  };
}

function drawMarker(ctx: CanvasRenderingContext2D, shape: string, x: number, y: number, r: number, color: string) {
  ctx.beginPath();
  if (shape === 'rect') {
    const s = r * 0.85;
    ctx.rect(x - s, y - s, 2 * s, 2 * s);
  } else if (shape === 'circle') {
    ctx.arc(x, y, r, 0, Math.PI * 2);
  } else if (shape === 'diamond') {
    ctx.moveTo(x, y - r);
    ctx.lineTo(x + r, y);
    ctx.lineTo(x, y + r);
    ctx.lineTo(x - r, y);
    ctx.closePath();
  } else if (shape === 'ellipse') {
    ctx.ellipse(x, y, r * 0.7, r, 0, 0, Math.PI * 2);
  } else if (shape === 'triDown') {
    ctx.moveTo(x - r, y - r * 0.7);
    ctx.lineTo(x + r, y - r * 0.7);
    ctx.lineTo(x, y + r);
    ctx.closePath();
  }
  ctx.strokeStyle = color;
  ctx.lineWidth = 1.4;
  ctx.stroke();
}

function makeFramePlugin(cfg: any) {
  return {
    id: 'frameTicks',
    afterDatasetsDraw(chart: any) {
      const { ctx, chartArea: a, scales } = chart;
      ctx.save();
      ctx.strokeStyle = FRAME;
      ctx.lineWidth = 1.5;
      ctx.beginPath();
      for (const v of stepValues(400, 600, 10)) {
        const px = scales.x.getPixelForValue(v);
        const len = isMultiple(v, 50) ? MAJOR_LEN : MINOR_LEN;
        ctx.moveTo(px, a.bottom);
        ctx.lineTo(px, a.bottom - len);
        ctx.moveTo(px, a.top);
        ctx.lineTo(px, a.top + len);
      }
      const L = cfg.left;
      for (const v of stepValues(L.min, L.max, L.minor)) {
        const py = scales[L.id].getPixelForValue(v);
        const len = isMultiple(v, L.major) ? MAJOR_LEN : MINOR_LEN;
        ctx.moveTo(a.left, py);
        ctx.lineTo(a.left + len, py);
      }
      const R = cfg.right;
      if (R.divisions) {
        for (let k = 1; k < R.divisions; k++) {
          const py = a.bottom - (k * (a.bottom - a.top)) / R.divisions;
          const len = k % R.majorEvery === 0 ? MAJOR_LEN : MINOR_LEN;
          ctx.moveTo(a.right, py);
          ctx.lineTo(a.right - len, py);
        }
      } else {
        for (const v of stepValues(R.min, R.max, R.minor)) {
          const py = scales[R.id].getPixelForValue(v);
          const len = isMultiple(v, R.major) ? MAJOR_LEN : MINOR_LEN;
          ctx.moveTo(a.right, py);
          ctx.lineTo(a.right - len, py);
        }
      }
      ctx.stroke();
      ctx.strokeRect(a.left, a.top, a.right - a.left, a.bottom - a.top);
      ctx.restore();
    },
  };
}

function makeDecorPlugin(cfg: any) {
  return {
    id: 'decor',
    afterDraw(chart: any) {
      const ctx = chart.ctx as CanvasRenderingContext2D;
      ctx.save();
      ctx.fillStyle = TXT;
      ctx.font = `bold 26px ${FONT}`;
      ctx.textAlign = 'center';
      ctx.textBaseline = 'middle';
      ctx.fillText(cfg.panel, cfg.panelX, cfg.panelY);

      const [x1, y1, x2, y2] = cfg.box;
      ctx.fillStyle = '#ffffff';
      ctx.fillRect(x1, y1, x2 - x1, y2 - y1);
      ctx.strokeStyle = '#444444';
      ctx.lineWidth = 1.2;
      ctx.strokeRect(x1, y1, x2 - x1, y2 - y1);

      cfg.items.forEach((it: any, i: number) => {
        const y = cfg.rows[i];
        if (it.err) {
          ctx.beginPath();
          ctx.strokeStyle = '#000';
          ctx.lineWidth = 1.3;
          ctx.moveTo(cfg.markerX, y - 9);
          ctx.lineTo(cfg.markerX, y + 9);
          ctx.stroke();
        }
        drawMarker(ctx, it.shape, cfg.markerX, y, it.r, it.color);
        ctx.fillStyle = TXT;
        ctx.font = `${LEGEND_FONT_PX}px ${FONT}`;
        ctx.textAlign = 'left';
        ctx.textBaseline = 'middle';
        ctx.fillText(it.label, cfg.textX, y);
      });
      ctx.restore();
    },
  };
}

const errorBarPlugin = {
  id: 'errorBars',
  beforeDatasetsDraw(chart: any) {
    const { ctx, chartArea: a } = chart;
    ctx.save();
    ctx.beginPath();
    ctx.rect(a.left, a.top, a.right - a.left, a.bottom - a.top);
    ctx.clip();
    ctx.strokeStyle = '#000';
    ctx.lineWidth = 1;
    chart.data.datasets.forEach((d: any) => {
      const errs = d.errors;
      if (!errs) return;
      const ys = chart.scales[d.yAxisID || 'y'];
      const xs = chart.scales.x;
      ctx.beginPath();
      d.data.forEach((p: any, i: number) => {
        const px = xs.getPixelForValue(p.x);
        ctx.moveTo(px, ys.getPixelForValue(p.y + errs[i]));
        ctx.lineTo(px, ys.getPixelForValue(p.y - errs[i]));
      });
      ctx.stroke();
    });
    ctx.restore();
  },
};

function xScale(H: number, bottom: number, titlePad: number) {
  return {
    type: 'linear',
    position: 'bottom',
    min: 400,
    max: 600,
    afterBuildTicks: (s: any) => {
      s.ticks = X_TICKS.map((v) => ({ value: v }));
    },
    afterFit: (s: any) => {
      s.height = H - bottom;
    },
    grid: { display: false, drawTicks: false },
    border: { display: false },
    ticks: { font: TICK_FONT, color: TXT, padding: 15.7, maxRotation: 0, autoSkip: false, callback: (v: number) => fmt(v) },
    title: { display: true, text: 'Wavelength (nm)', font: TITLE_FONT, color: TXT, padding: { top: 0, bottom: titlePad } },
  };
}

function yScale(pos: string, min: number, max: number, ticks: number[], width: number, title: string, titlePad: number) {
  return {
    type: 'linear',
    position: pos,
    min,
    max,
    afterBuildTicks: (s: any) => {
      s.ticks = ticks.map((v) => ({ value: v }));
    },
    afterFit: (s: any) => {
      s.width = width;
    },
    grid: { display: false, drawTicks: false },
    border: { display: false },
    ticks: { font: TICK_FONT, color: TXT, padding: 9.5, autoSkip: false, callback: (v: number) => fmt(v) },
    title: { display: true, text: title, font: TITLE_FONT, color: TXT, padding: { top: titlePad, bottom: 0 } },
  };
}

const baseOptions = {
  responsive: false,
  maintainAspectRatio: false,
  animation: false,
  devicePixelRatio: 1,
  events: [],
  plugins: { legend: { display: false }, tooltip: { enabled: false } },
};

const abLegendItems = [
  { label: LEGEND_AB[0], shape: 'rect', color: COL.b1, r: 4.3 },
  { label: LEGEND_AB[1], shape: 'circle', color: COL.b2, r: 3.8 },
  { label: LEGEND_AB[2], shape: 'diamond', color: COL.b3, r: 4.3 },
  { label: LEGEND_AB[3], shape: 'rect', color: COL.s1, r: 4.3 },
  { label: LEGEND_AB[4], shape: 'circle', color: COL.s2, r: 3.8 },
  { label: LEGEND_AB[5], shape: 'diamond', color: COL.s3, r: 4.3 },
];

function buildA() {
  const H = 460;
  return {
    type: 'scatter',
    data: {
      datasets: [
        scatterSet(LEGEND_AB[0], pts(wlA, blank1A), 'rect', COL.b1, 2.6),
        scatterSet(LEGEND_AB[1], pts(wlA, blank2A), 'circle', COL.b2, 2.1),
        scatterSet(LEGEND_AB[2], pts(wlA, blank3A), 'rectRot', COL.b3, 2.6),
        scatterSet(LEGEND_AB[3], pts(wlA, sample1A), 'rect', COL.s1, 2.6),
        scatterSet(LEGEND_AB[4], pts(wlA, sample2A), 'circle', COL.s2, 2.1),
        scatterSet(LEGEND_AB[5], pts(wlA, sample3A), 'rectRot', COL.s3, 2.6),
      ],
    },
    options: {
      ...baseOptions,
      layout: { padding: { top: 15.7, left: 0, right: 68, bottom: 0 } },
      scales: {
        x: xScale(H, 374, 5.4),
        y: yScale('left', 0, 75, A_Y_TICKS, 107, 'Intensity (Counts × 10³)', 23.8),
      },
    },
    plugins: [
      makeFramePlugin({ left: { id: 'y', min: 0, max: 75, minor: 5, major: 15 }, right: { id: 'y', min: 0, max: 75, minor: 5, major: 15 } }),
      makeDecorPlugin({
        panel: '(a)', panelX: 31.7, panelY: 29,
        box: [138.6, 46.7, 289.2, 268.3], markerX: 151.6, textX: 176.2,
        rows: [63.3, 100, 136.7, 173.3, 210, 246.7],
        items: abLegendItems,
      }),
    ],
  };
}

function buildB() {
  const H = 455;
  const allBase = pts(wlB, baseB).concat(pts(wlB2, baseB2));
  const outside = allBase.filter((p) => p.x < 563 || p.x > 587);
  const s1 = outside.concat(pts(peakWlB, sample1PeakB));
  const s2 = outside.concat(pts(peakWlB, sample2PeakB));
  const s3 = outside.concat(pts(peakWlB, sample3PeakB));
  return {
    type: 'scatter',
    data: {
      datasets: [
        scatterSet(LEGEND_AB[0], allBase, 'rect', COL.b1, 2.6),
        scatterSet(LEGEND_AB[1], allBase, 'circle', COL.b2, 2.1),
        scatterSet(LEGEND_AB[2], allBase, 'rectRot', COL.b3, 2.6),
        scatterSet(LEGEND_AB[3], s1, 'rect', COL.s1, 2.6),
        scatterSet(LEGEND_AB[4], s2, 'circle', COL.s2, 2.1),
        scatterSet(LEGEND_AB[5], s3, 'rectRot', COL.s3, 2.6),
      ],
    },
    options: {
      ...baseOptions,
      layout: { padding: { top: 13.3, left: 0, right: 68, bottom: 0 } },
      scales: {
        x: xScale(H, 371, 3.4),
        y: yScale('left', -1, 8, B_Y_TICKS, 107, 'Intensity (Counts × 10³)', 36.4),
      },
    },
    plugins: [
      makeFramePlugin({ left: { id: 'y', min: -1, max: 8, minor: 1, major: 2 }, right: { divisions: 10, majorEvery: 2 } }),
      makeDecorPlugin({
        panel: '(b)', panelX: 32, panelY: 21.7,
        box: [138.6, 39.3, 289.2, 260.7], markerX: 151.6, textX: 176.2,
        rows: [56, 92.7, 129.3, 166, 202.7, 239.3],
        items: abLegendItems,
      }),
    ],
  };
}

function buildC() {
  const H = 456;
  return {
    type: 'scatter',
    data: {
      datasets: [
        scatterSet(LEGEND_C[0], pts(wlAbs, absVal), 'circle', COL.abs, 1.6, { yAxisID: 'y', errors: absErr, pointBorderWidth: 1.2 }),
        scatterSet(LEGEND_C[1], pts(wlFl, flVal), 'triangle', COL.fl, 2.6, { yAxisID: 'y1', errors: flErr, pointRotation: 180 }),
      ],
    },
    options: {
      ...baseOptions,
      layout: { padding: { top: 15, left: 0, right: 0, bottom: 0 } },
      scales: {
        x: xScale(H, 373, 2.4),
        y: yScale('left', 0, 2, C_ABS_TICKS, 107, 'Average Abs. (AU)', 15.2),
        y1: yScale('right', 0, 5.24, C_FL_TICKS, 68, 'Fl. Intensity (Counts × 10³)', 0),
      },
    },
    plugins: [
      errorBarPlugin,
      makeFramePlugin({ left: { id: 'y', min: 0, max: 2, minor: 0.1, major: 0.4 }, right: { id: 'y1', min: 0, max: 5.2, minor: 0.2, major: 1 } }),
      makeDecorPlugin({
        panel: '(c)', panelX: 30, panelY: 26,
        box: [138.6, 57.7, 243.7, 139], markerX: 157.4, textX: 182,
        rows: [81, 116.7],
        items: [
          { label: LEGEND_C[0], shape: 'ellipse', color: COL.abs, r: 4.5, err: true },
          { label: LEGEND_C[1], shape: 'triDown', color: COL.fl, r: 4.3, err: true },
        ],
      }),
    ],
  };
}

export default function App() {
  const refA = useRef<HTMLCanvasElement | null>(null);
  const refB = useRef<HTMLCanvasElement | null>(null);
  const refC = useRef<HTMLCanvasElement | null>(null);

  useEffect(() => {
    const charts = [
      new Chart(refA.current as any, buildA() as any),
      new Chart(refB.current as any, buildB() as any),
      new Chart(refC.current as any, buildC() as any),
    ];
    return () => charts.forEach((c) => c.destroy());
  }, []);

  return (
    <div style={{ position: 'absolute', left: 0, top: 0, width: 536, height: 1371, background: '#ffffff', overflow: 'hidden' }}>
      <canvas ref={refA} width={536} height={460} style={{ position: 'absolute', left: 0, top: 0, width: 536, height: 460 }} />
      <canvas ref={refB} width={536} height={455} style={{ position: 'absolute', left: 0, top: 460, width: 536, height: 455 }} />
      <canvas ref={refC} width={536} height={456} style={{ position: 'absolute', left: 0, top: 915, width: 536, height: 456 }} />
    </div>
  );
}
